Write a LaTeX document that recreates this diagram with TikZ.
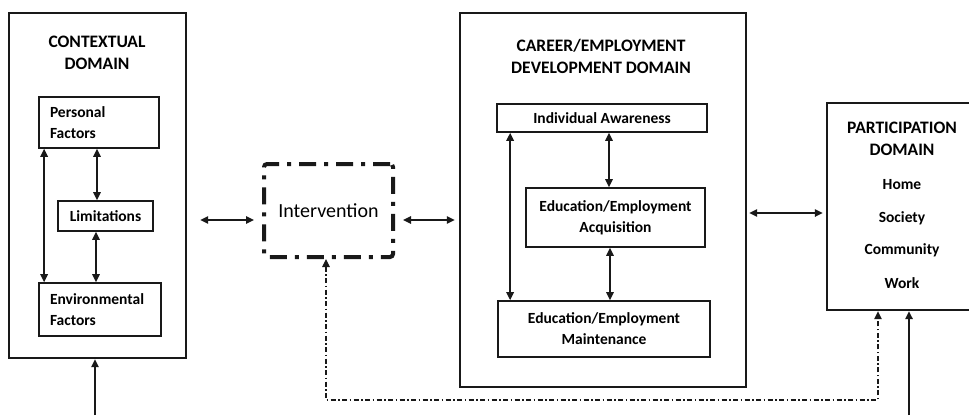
\documentclass[tikz,border=0pt]{standalone}
\usepackage{fontspec}
\setmainfont{Carlito}
\usetikzlibrary{arrows.meta}
\begin{document}
\begin{tikzpicture}[x=1pt,y=-1pt,
  outer/.style={draw=black!90,line width=2.4pt,inner sep=0pt},
  inner/.style={draw=black!90,line width=1.7pt,inner sep=0pt,font=\fontsize{15.5}{21}\selectfont\bfseries,align=center},
  lbl/.style={inner sep=0pt,font=\fontsize{15.5}{21}\selectfont\bfseries,align=center},
  ttl/.style={inner sep=0pt,font=\fontsize{17.5}{22}\selectfont\bfseries,align=center},
  arr/.style={line width=1.5pt,draw=black!90,{Triangle[length=8pt,width=7.5pt]}-{Triangle[length=8pt,width=7.5pt]}},
  uparr/.style={line width=1.5pt,draw=black!90,-{Triangle[length=8pt,width=7.5pt]}},
  dd/.style={line width=1.2pt,draw=black!90,dash pattern=on 5pt off 2.5pt on 1.5pt off 2.5pt,{Triangle[length=8pt,width=7.5pt]}-{Triangle[length=8pt,width=7.5pt]}},
  intbox/.style={draw=black!90,line width=4pt,dash pattern=on 17pt off 8pt on 4pt off 8pt,rounded corners=3pt,inner sep=0pt,font=\fontsize{20}{22}\selectfont}
]
\useasboundingbox (0,0) rectangle (969,415);
% contextual domain
\node[outer,minimum width=177pt,minimum height=345pt] (ctx) at (97.5,185.5) {};
\node[ttl] (ctxt) at (97,52.5) {CONTEXTUAL\\DOMAIN};
\node[inner,minimum width=120pt,minimum height=51pt,text width=98pt,inner xsep=11pt,align=left] (pf) at (99,122.5) {Personal\\Factors};
\node[inner,minimum width=95pt,minimum height=30pt] (lim) at (105.5,216) {Limitations};
\node[inner,minimum width=122pt,minimum height=53pt,text width=100pt,inner xsep=11pt,align=left] (ef) at (100,309.5) {Environmental\\Factors};
\draw[arr] ([xshift=6pt]pf.south west) -- ([xshift=6pt]pf.south west |- ef.north);
\draw[arr] ([xshift=-2pt]pf.south) -- ([xshift=-2pt]pf.south |- lim.north);
\draw[arr] ([xshift=-4pt]ef.north) -- ([xshift=-4pt]ef.north |- lim.south);
% intervention
\node[intbox,minimum width=129pt,minimum height=93pt] (int) at (328.5,210.5) {Intervention};
% career domain
\node[outer,minimum width=286pt,minimum height=374pt] (car) at (603,200) {};
\node[ttl] (cart) at (601,56.5) {CAREER/EMPLOYMENT\\DEVELOPMENT DOMAIN};
\node[inner,minimum width=210pt,minimum height=28pt] (ia) at (602,118) {Individual Awareness};
\node[inner,minimum width=179pt,minimum height=59pt] (acq) at (615.5,217.5) {Education/Employment\\Acquisition};
\node[inner,minimum width=212pt,minimum height=56pt] (mnt) at (604,329) {Education/Employment\\Maintenance};
\draw[arr] ([xshift=14pt]ia.south west) -- ([xshift=14pt]ia.south west |- mnt.north);
\draw[arr] ([xshift=7pt]ia.south) -- ([xshift=7pt]ia.south |- acq.north);
\draw[arr] ([xshift=-5.5pt]acq.south) -- ([xshift=-5.5pt]acq.south |- mnt.north);
% participation domain
\node[outer,minimum width=150pt,minimum height=207pt] (pd) at (902,206.5) {};
\node[ttl] (pdt) at (902,138.5) {PARTICIPATION\\DOMAIN};
\node[lbl] (home) at (902,185) {Home};
\node[lbl] (soc) at (902,218) {Society};
\node[lbl] (com) at (902,250) {Community};
\node[lbl] (work) at (902,283) {Work};
% horizontal connectors
\coordinate (hy) at (0,220);
\coordinate (hy2) at (0,213);
\draw[arr,shorten <=13pt,shorten >=8pt] (ctx.east |- hy) -- (int.west |- hy);
\draw[arr,shorten <=8pt,shorten >=4pt] (int.east |- hy) -- (car.west |- hy);
\draw[arr,shorten <=2pt,shorten >=3pt] (car.east |- hy2) -- (pd.west |- hy2);
% bottom inputs
\coordinate (in1) at (95,415);
\coordinate (in2) at (909,415);
\draw[uparr] (in1) -- (in1 |- ctx.south);
\draw[uparr] (in2) -- (in2 |- pd.south);
\coordinate (lp) at (326,400);
\coordinate (rp) at (878,400);
\draw[dd] (int.south -| lp) -- (lp) -- (rp) -- (rp |- pd.south);
\end{tikzpicture}
\end{document}
